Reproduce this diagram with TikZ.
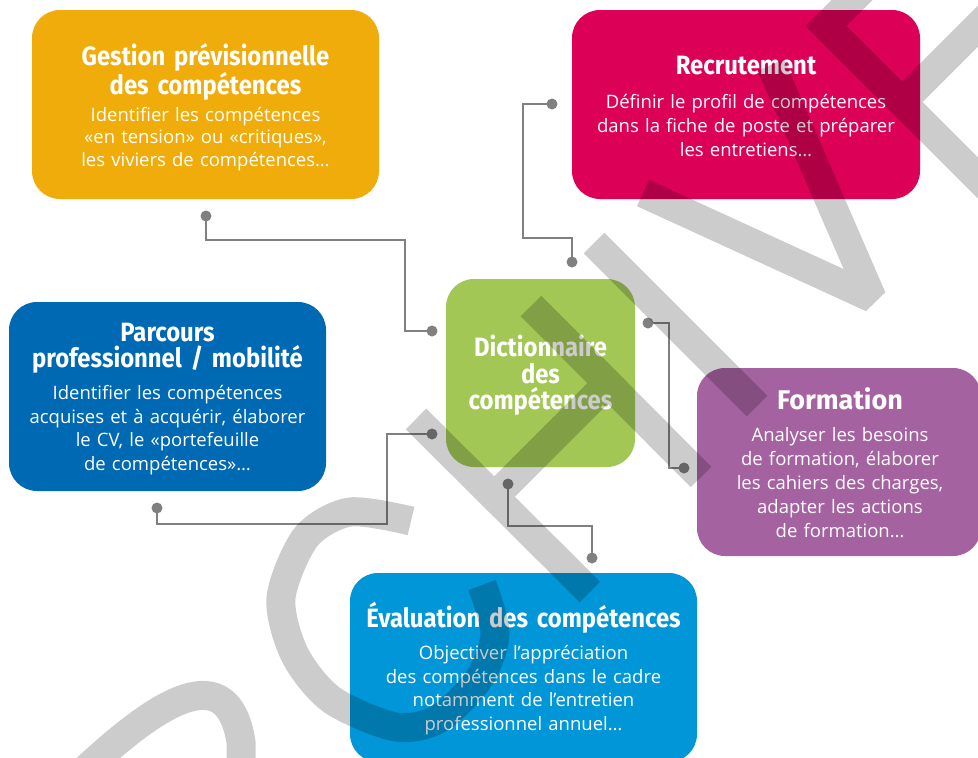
\documentclass[tikz,border=0pt]{standalone}
\usepackage{fontspec}
\setmainfont{Open Sans}
\newfontfamily\titlefont{Fira Sans}[FakeStretch=0.9]
\newfontfamily\titlewide{Fira Sans}
\definecolor{cY}{RGB}{240,172,10}
\definecolor{cM}{RGB}{220,0,87}
\definecolor{cB}{RGB}{0,105,180}
\definecolor{cL}{RGB}{162,199,85}
\definecolor{cP}{RGB}{165,98,161}
\definecolor{cS}{RGB}{0,150,215}
\definecolor{cG}{RGB}{128,128,128}
\tikzset{
  box/.style={draw=none, rounded corners=28pt, inner sep=0pt, minimum height=189pt},
  ttl/.style={text=white, inner sep=0pt, anchor=base, text width=360pt, align=center,
    font=\titlefont\bfseries\fontsize{26.5}{25.8}\selectfont},
  txt/.style={text=white, inner sep=0pt, anchor=base, text width=360pt, align=center,
    font=\fontsize{18.5}{23.8}\selectfont},
  dot/.style={circle, fill=cG, draw=none, inner sep=0pt, minimum size=11pt},
  conn/.style={draw=cG, line width=2.6pt},
  wm/.style={draw=black, draw opacity=0.2, line width=29pt, line cap=butt}
}
\begin{document}
\begin{tikzpicture}[x=1pt,y=-1pt]
\useasboundingbox (0,0) rectangle (978,758);
\clip (0,0) rectangle (978,758);
\fill[white] (0,0) rectangle (978,758);

% boxes
\node[box, fill=cY, minimum width=347pt] (gbox) at (205.5,104.5) {};
\node[box, fill=cM, minimum width=348pt] (rbox) at (746,104.5) {};
\node[box, fill=cB, minimum width=317pt] (pbox) at (167.5,396.5) {};
\node[box, fill=cL, minimum width=189pt, minimum height=188pt] (dbox) at (540.5,373) {};
\node[box, fill=cP, minimum width=284pt, minimum height=188pt] (fbox) at (839,462) {};
\node[box, fill=cS, minimum width=347pt] (ebox) at (523.5,667.5) {};

% texts
\node[ttl] (gt) at (205.5,65) {Gestion prévisionnelle\\des compétences};
\node[txt, font=\fontsize{18.5}{22.3}\selectfont] (gb) at (205.5,121.5) {Identifier les compétences\\«en tension» ou «critiques»,\\les viviers de compétences…};
\node[ttl] (rt) at (746,74) {Recrutement};
\node[txt] (rb) at (746,108.5) {Définir le profil de compétences\\dans la fiche de poste et préparer\\les entretiens…};
\node[ttl] (pt) at (167.5,341.7) {Parcours\\professionnel / mobilité};
\node[txt] (pb) at (167.5,399.3) {Identifier les compétences\\acquises et à acquérir, élaborer\\le CV, le «portefeuille\\de compétences»…};
\node[ttl, font=\titlefont\bfseries\fontsize{26.5}{26.6}\selectfont] (dt) at (540.5,356.7) {Dictionnaire\\des\\compétences};
\node[ttl, font=\titlewide\bfseries\fontsize{27}{27}\selectfont] (ft) at (840,409) {Formation};
\node[txt, font=\fontsize{18.5}{24}\selectfont] (fb) at (840,441.7) {Analyser les besoins\\de formation, élaborer\\les cahiers des charges,\\adapter les actions\\de formation…};
\node[ttl] (et) at (523.5,627.3) {Évaluation des compétences};
\node[txt] (eb) at (523.5,659.3) {Objectiver l’appréciation\\des compétences dans le cadre\\notamment de l’entretien\\professionnel annuel…};

% connector dots
\node[dot] (g1) at (206,216) {};
\node[dot] (g2) at (432,331) {};
\node[dot] (r1) at (552,104) {};
\node[dot] (r2) at (572,262) {};
\node[dot] (p1) at (157,508) {};
\node[dot] (p2) at (432,434) {};
\node[dot] (f1) at (648,323) {};
\node[dot] (f2) at (684,468) {};
\node[dot] (e1) at (508,484) {};
\node[dot] (e2) at (592,558) {};

% connectors
\draw[conn] (g1.center) -- ++(0,24) -| ([xshift=-27pt]g2.center) -- (g2.center);
\draw[conn] (r1.center) -- ++(-29,0) |- ([yshift=24pt]r2.center) -- (r2.center);
\draw[conn] (p1.center) -- ++(0,16) -| ([xshift=-45pt]p2.center) -- (p2.center);
\draw[conn] (f1.center) -- ++(21,0) |- (f2.center);
\draw[conn] (e1.center) -- ++(0,42) -| (e2.center);

% watermark
\draw[wm, line join=miter]
  plot[smooth] coordinates {(411,521) (350,512) (306,537) (281,598) (295,655) (332,700) (396,727) (440,718) (480,677) (495,633) (482,585)}
  (85,770) .. controls (160,700) and (228,658) .. (241,742) -- (241,770)
  (416,419) -- (590,592)
  (531,306) -- (701,477)
  (494,497) -- (608,383)
  (594,243) -- (757,406)
  (880,-28) -- (826,26) -- (990,190)
  (902,102) -- (1010,-6);
\draw[wm, line join=bevel] (643,193) -- (872,298) -- (771,65);
\end{tikzpicture}
\end{document}
